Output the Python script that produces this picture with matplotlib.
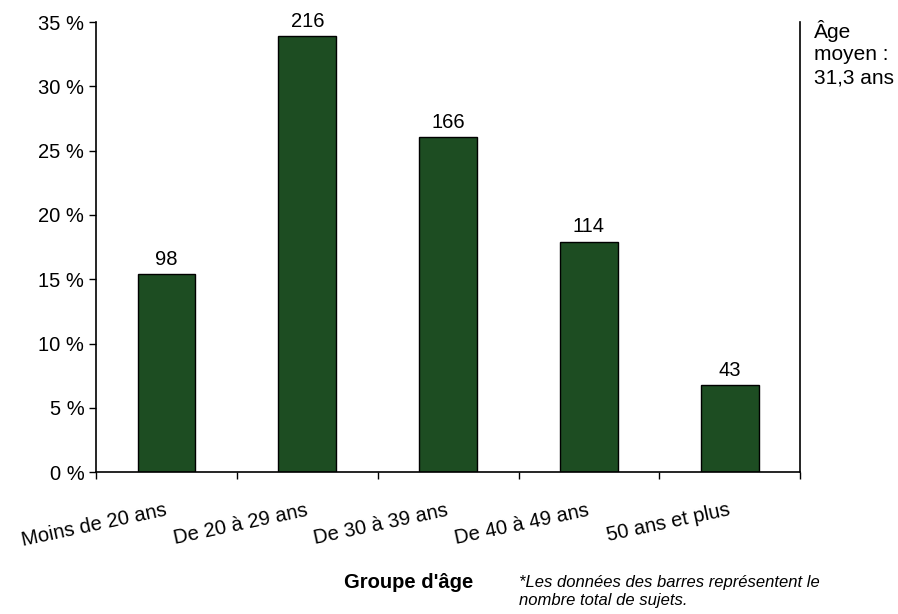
import numpy as np
import matplotlib
matplotlib.use('Agg')
from matplotlib import pyplot as plt
from matplotlib.ticker import FuncFormatter

plt.rcParams['font.family'] = ['Liberation Sans', 'DejaVu Sans']

groupes = ['Moins de 20 ans', 'De 20 à 29 ans', 'De 30 à 39 ans',
           'De 40 à 49 ans', '50 ans et plus']
sujets = [98, 216, 166, 114, 43]

# part de chaque groupe en pourcentage du total
pourcent = 100.0 * np.array(sujets) / sum(sujets)

fig = plt.figure(figsize=(8.98, 6.14), dpi=100)
ax = fig.add_axes([0.107, 0.231, 0.784, 0.733])

x = np.arange(len(groupes))
ax.bar(x, pourcent, width=0.41, color='#1d4d22', edgecolor='black', linewidth=1)
for xi, p, n in zip(x, pourcent, sujets):
    ax.annotate(str(n), (xi, p), xytext=(0, 4), textcoords='offset points',
                ha='center', va='bottom', fontsize=14.5)

ax.set_xlim(-0.5, len(groupes) - 0.5)
ax.set_ylim(0, 35)
ax.set_yticks(np.arange(0, 36, 5))
ax.yaxis.set_major_formatter(FuncFormatter(lambda v, pos: '%d %%' % v))
ax.tick_params(axis='y', labelsize=14.5, direction='out', length=5, width=1)

# graduations entre les catégories, libellés inclinés sous chaque barre
ax.set_xticks(np.arange(-0.5, len(groupes), 1.0))
ax.set_xticklabels([])
ax.tick_params(axis='x', direction='out', length=5, width=1)
for xi, g in zip(x, groupes):
    ax.text(xi, -2.95, g, rotation=12, ha='right', va='center',
            rotation_mode='anchor', fontsize=14.5)

ax.spines['top'].set_visible(False)
for s in ['left', 'right', 'bottom']:
    ax.spines[s].set_linewidth(1.2)

fig.text(0.455, 0.052, "Groupe d'âge", ha='center', va='center',
         fontsize=14.5, fontweight='bold')
fig.text(0.578, 0.052, '*Les données des barres représentent le',
         ha='left', va='center', fontsize=12, style='italic')
fig.text(0.578, 0.022, 'nombre total de sujets.',
         ha='left', va='center', fontsize=12, style='italic')
fig.text(0.906, 0.968, 'Âge\nmoyen :\n31,3 ans', ha='left', va='top',
         fontsize=15, linespacing=1.25)

fig.savefig('out.png', dpi=100)
